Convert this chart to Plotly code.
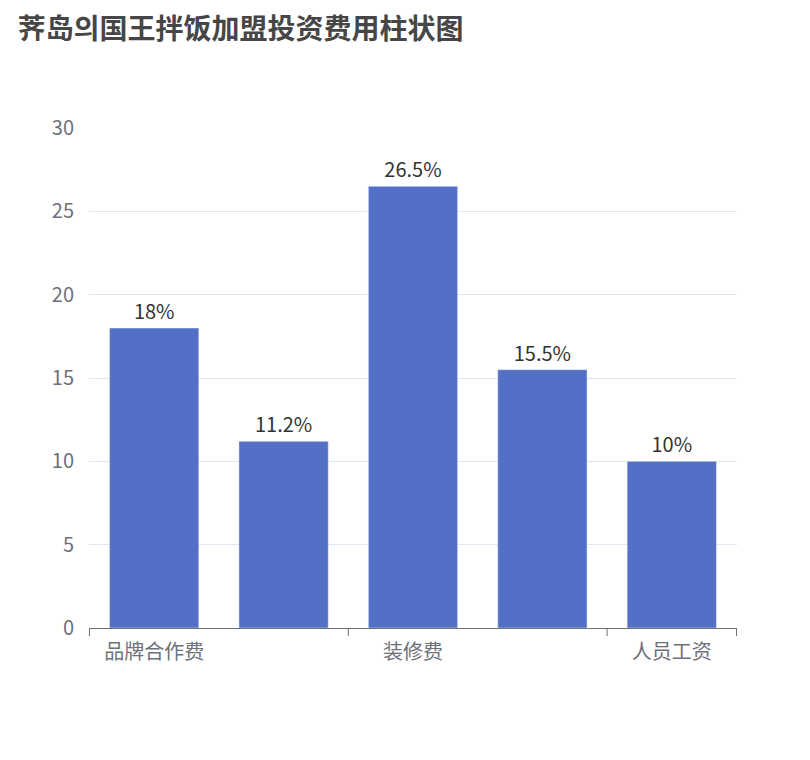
import plotly.graph_objects as go

# data
categories = ["品牌合作费", "设备费", "装修费", "原料费", "人员工资"]
values = [18, 11.2, 26.5, 15.5, 10]
labels = ["18%", "11.2%", "26.5%", "15.5%", "10%"]
shown_ticks = ["品牌合作费", "", "装修费", "", "人员工资"]
tick_marks = [-0.5, 1.5, 3.5, 4.5]

font = "Noto Sans CJK SC, sans-serif"

fig = go.Figure(go.Bar(
    x=categories,
    y=values,
    text=labels,
    textposition="outside",
    textfont=dict(size=20, color="#333"),
    marker_color="#5470c6",
    cliponaxis=False,
))

for t in tick_marks:
    fig.add_shape(type="line", xref="x", yref="paper", x0=t, x1=t, y0=0, y1=-0.016,
                  line=dict(color="#6e7079", width=1))

fig.update_layout(
    width=810, height=760,
    margin=dict(l=81, r=81, t=120, b=140),
    plot_bgcolor="white", paper_bgcolor="white",
    font=dict(family=font),
    bargap=0.31,
    showlegend=False,
    title=dict(text="<b>荠岛의国王拌饭加盟投资费用柱状图</b>", x=0.012, y=0.985,
               yanchor="top", font=dict(size=28, color="#464646")),
    xaxis=dict(tickvals=categories, ticktext=shown_ticks, showline=True,
               linecolor="#6e7079", tickfont=dict(size=20, color="#6e7079"),
               ticks="", ticklabelstandoff=6),
    yaxis=dict(range=[0, 30], dtick=5, gridcolor="#e0e6f1", zeroline=False,
               tickfont=dict(size=20, color="#6e7079"), ticklabelstandoff=14),
)

fig.write_html("out.html")
